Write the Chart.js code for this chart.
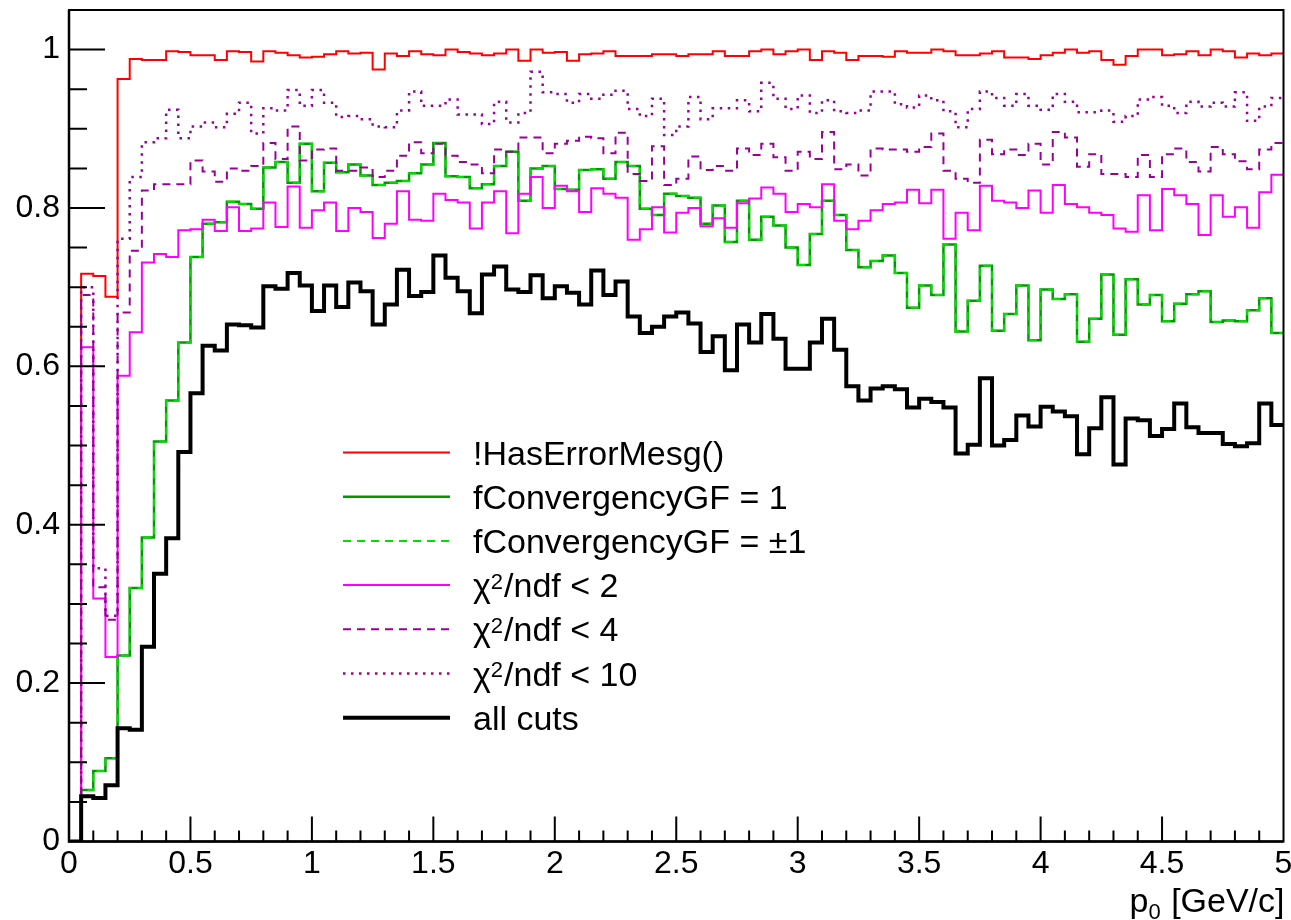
<!DOCTYPE html>
<html>
<head>
<meta charset="utf-8">
<title>Fit efficiency vs p0</title>
<script src="https://cdn.jsdelivr.net/npm/chart.js@4.4.1/dist/chart.umd.min.js"></script>
<style>
  html, body { margin: 0; padding: 0; background: #fff; }
  canvas { display: block; }
</style>
</head>
<body>
<canvas id="effChart" width="1291" height="920"></canvas>
<script>
const FONT = "'Liberation Sans', Arial, Helvetica, sans-serif";

// 100 bins of 0.05 GeV/c from 0 to 5
const BIN_W = 0.05;
const X_TICK_STEP = 0.5;
const Y_TICK_STEP = 0.2;

const LABELS = [
  '!HasErrorMesg()',
  'fConvergencyGF = 1',
  'fConvergencyGF = \u00b11',
  '\u03c7^{2}/ndf < 2',
  '\u03c7^{2}/ndf < 4',
  '\u03c7^{2}/ndf < 10',
  'all cuts'
];
const X_TITLE = 'p_{0} [GeV/c]';

const noError = [
  0, 0.717, 0.714, 0.688, 0.963, 0.988, 0.987, 0.987, 0.998, 0.997,
  0.993, 0.993, 0.987, 0.998, 0.997, 0.985, 0.998, 0.996, 0.993, 0.990,
  0.991, 0.994, 0.998, 0.995, 0.996, 0.975, 0.995, 0.992, 0.998, 0.994,
  0.993, 1.000, 0.997, 0.995, 0.993, 0.995, 1.000, 0.986, 1.000, 0.996,
  0.997, 0.986, 0.994, 0.995, 0.998, 0.992, 0.992, 0.992, 0.994, 0.994,
  0.992, 0.994, 0.994, 0.998, 0.992, 0.992, 0.998, 1.000, 0.994, 0.998,
  1.000, 0.987, 0.998, 0.996, 0.987, 0.992, 0.992, 0.991, 0.998, 0.996,
  0.996, 1.000, 0.998, 0.993, 0.993, 0.995, 0.998, 0.990, 0.990, 0.988,
  0.993, 0.996, 1.000, 0.996, 0.998, 0.987, 0.981, 0.992, 1.000, 1.000,
  0.993, 0.994, 0.998, 0.993, 1.000, 0.998, 0.990, 0.995, 0.993, 0.995
];

const convOne = [
  0, 0.065, 0.089, 0.105, 0.235, 0.320, 0.384, 0.505, 0.557, 0.630,
  0.738, 0.780, 0.782, 0.808, 0.805, 0.799, 0.851, 0.858, 0.832, 0.881,
  0.821, 0.857, 0.845, 0.855, 0.841, 0.829, 0.832, 0.834, 0.844, 0.855,
  0.882, 0.840, 0.839, 0.825, 0.830, 0.853, 0.871, 0.809, 0.850, 0.853,
  0.824, 0.823, 0.848, 0.849, 0.837, 0.858, 0.853, 0.799, 0.791, 0.818,
  0.815, 0.813, 0.780, 0.803, 0.757, 0.809, 0.760, 0.789, 0.778, 0.750,
  0.728, 0.767, 0.809, 0.791, 0.747, 0.725, 0.733, 0.740, 0.718, 0.674,
  0.702, 0.690, 0.754, 0.644, 0.683, 0.727, 0.645, 0.666, 0.702, 0.633,
  0.697, 0.685, 0.691, 0.631, 0.660, 0.716, 0.640, 0.710, 0.678, 0.690,
  0.657, 0.679, 0.691, 0.695, 0.656, 0.658, 0.657, 0.671, 0.686, 0.642
];

// the +-1 curve sits exactly on top of the =1 curve in the picture
const convPm1 = convOne.slice();

const chi2lt2 = [
  0, 0.624, 0.307, 0.233, 0.588, 0.643, 0.731, 0.742, 0.738, 0.772,
  0.773, 0.785, 0.771, 0.801, 0.771, 0.774, 0.807, 0.776, 0.827, 0.775,
  0.797, 0.807, 0.771, 0.800, 0.795, 0.762, 0.780, 0.821, 0.785, 0.784,
  0.818, 0.810, 0.807, 0.774, 0.807, 0.821, 0.768, 0.818, 0.839, 0.800,
  0.828, 0.821, 0.795, 0.825, 0.818, 0.813, 0.760, 0.773, 0.801, 0.769,
  0.794, 0.800, 0.777, 0.787, 0.775, 0.806, 0.812, 0.826, 0.818, 0.795,
  0.805, 0.801, 0.830, 0.784, 0.773, 0.784, 0.797, 0.805, 0.807, 0.823,
  0.806, 0.823, 0.761, 0.794, 0.772, 0.828, 0.809, 0.807, 0.800, 0.822,
  0.794, 0.829, 0.805, 0.801, 0.794, 0.791, 0.774, 0.770, 0.816, 0.772,
  0.824, 0.816, 0.805, 0.766, 0.816, 0.789, 0.801, 0.775, 0.820, 0.842
];

const chi2lt4 = [
  0, 0.690, 0.321, 0.280, 0.668, 0.746, 0.822, 0.830, 0.830, 0.830,
  0.860, 0.846, 0.833, 0.850, 0.847, 0.853, 0.882, 0.862, 0.903, 0.860,
  0.874, 0.875, 0.847, 0.847, 0.851, 0.839, 0.847, 0.866, 0.883, 0.869,
  0.881, 0.866, 0.858, 0.855, 0.844, 0.874, 0.871, 0.889, 0.889, 0.869,
  0.881, 0.885, 0.890, 0.888, 0.869, 0.895, 0.843, 0.834, 0.878, 0.829,
  0.837, 0.865, 0.848, 0.853, 0.847, 0.875, 0.867, 0.881, 0.864, 0.847,
  0.871, 0.862, 0.896, 0.849, 0.855, 0.841, 0.875, 0.874, 0.874, 0.871,
  0.877, 0.894, 0.847, 0.837, 0.832, 0.886, 0.868, 0.874, 0.867, 0.881,
  0.855, 0.896, 0.889, 0.852, 0.868, 0.843, 0.843, 0.839, 0.867, 0.839,
  0.868, 0.875, 0.858, 0.846, 0.877, 0.868, 0.859, 0.849, 0.874, 0.882
];

const chi2lt10 = [
  0, 0.700, 0.345, 0.285, 0.761, 0.839, 0.883, 0.888, 0.924, 0.888,
  0.903, 0.908, 0.902, 0.919, 0.933, 0.894, 0.926, 0.923, 0.949, 0.929,
  0.949, 0.933, 0.915, 0.916, 0.912, 0.903, 0.902, 0.923, 0.947, 0.929,
  0.929, 0.937, 0.918, 0.918, 0.906, 0.934, 0.908, 0.920, 0.972, 0.946,
  0.944, 0.933, 0.944, 0.938, 0.943, 0.948, 0.925, 0.916, 0.938, 0.892,
  0.903, 0.940, 0.912, 0.926, 0.926, 0.936, 0.922, 0.958, 0.938, 0.925,
  0.942, 0.920, 0.936, 0.922, 0.920, 0.923, 0.947, 0.947, 0.931, 0.927,
  0.942, 0.936, 0.922, 0.902, 0.925, 0.947, 0.939, 0.929, 0.944, 0.929,
  0.924, 0.944, 0.934, 0.921, 0.921, 0.923, 0.909, 0.916, 0.937, 0.940,
  0.929, 0.920, 0.934, 0.928, 0.933, 0.928, 0.946, 0.910, 0.928, 0.939
];

const allCuts = [
  0, 0.057, 0.055, 0.071, 0.143, 0.141, 0.246, 0.338, 0.383, 0.492,
  0.566, 0.626, 0.620, 0.653, 0.652, 0.649, 0.701, 0.698, 0.718, 0.702,
  0.670, 0.702, 0.675, 0.706, 0.695, 0.653, 0.678, 0.722, 0.689, 0.694,
  0.740, 0.712, 0.695, 0.667, 0.716, 0.726, 0.697, 0.694, 0.715, 0.686,
  0.701, 0.693, 0.678, 0.721, 0.690, 0.707, 0.663, 0.642, 0.650, 0.663,
  0.668, 0.654, 0.618, 0.638, 0.595, 0.653, 0.630, 0.666, 0.635, 0.597,
  0.597, 0.630, 0.660, 0.621, 0.575, 0.557, 0.572, 0.575, 0.571, 0.548,
  0.559, 0.555, 0.548, 0.490, 0.501, 0.585, 0.500, 0.507, 0.538, 0.524,
  0.549, 0.543, 0.537, 0.489, 0.522, 0.561, 0.476, 0.534, 0.532, 0.512,
  0.521, 0.553, 0.523, 0.516, 0.516, 0.502, 0.499, 0.503, 0.553, 0.526
];

// histogram outline: one point per bin low edge, plus the last upper edge
function toSteps(vals) {
  const pts = vals.map((v, i) => ({ x: i * BIN_W, y: v }));
  pts.push({ x: vals.length * BIN_W, y: vals[vals.length - 1] });
  return pts;
}

function histo(label, vals, color, width, dash, order) {
  return {
    label,
    data: toSteps(vals),
    borderColor: color,
    borderWidth: width,
    borderDash: dash,
    stepped: 'before',
    pointRadius: 0,
    fill: false,
    borderJoinStyle: 'miter',
    order
  };
}

// draws text with ROOT-like ^{..} and _{..}
function drawLatex(ctx, str, x, y, size, align) {
  const parts = [];
  const re = /(\^|_)\{([^}]*)\}/g;
  let last = 0, m;
  while ((m = re.exec(str)) !== null) {
    if (m.index > last) parts.push({ t: str.slice(last, m.index), k: '' });
    parts.push({ t: m[2], k: m[1] });
    last = re.lastIndex;
  }
  if (last < str.length) parts.push({ t: str.slice(last), k: '' });

  const fontOf = p => (p.k ? Math.round(size * 0.66) : size) + 'px ' + FONT;
  let total = 0;
  parts.forEach(p => { ctx.font = fontOf(p); p.w = ctx.measureText(p.t).width; total += p.w; });
  let cx = align === 'right' ? x - total : x;
  ctx.textAlign = 'left';
  ctx.textBaseline = 'alphabetic';
  parts.forEach(p => {
    ctx.font = fontOf(p);
    const dy = p.k === '^' ? -size * 0.24 : (p.k === '_' ? size * 0.22 : 0);
    ctx.fillText(p.t, cx, y + dy);
    cx += p.w + (p.k ? 1 : 0);
  });
}

const rootFrame = {
  id: 'rootFrame',
  afterDatasetsDraw(chart) {
    const { ctx, chartArea: a, scales: { x, y } } = chart;
    ctx.save();
    ctx.strokeStyle = '#000';
    ctx.lineWidth = 2;
    ctx.setLineDash([]);
    ctx.strokeRect(a.left, a.top, a.right - a.left, a.bottom - a.top);
    ctx.beginPath();
    for (let i = 1; i < 50; i++) {
      const px = x.getPixelForValue(i * 0.1);
      const len = i % 5 === 0 ? 25 : 11;
      ctx.moveTo(px, a.bottom);
      ctx.lineTo(px, a.bottom - len);
    }
    for (let i = 1; i < 21; i++) {
      const py = y.getPixelForValue(i * 0.05);
      const len = i % 4 === 0 ? 36 : 18;
      ctx.moveTo(a.left, py);
      ctx.lineTo(a.left + len, py);
    }
    ctx.stroke();
    ctx.lineWidth = 2.5;
    ctx.beginPath();
    ctx.moveTo(a.left, a.top);
    ctx.lineTo(a.left, a.bottom);
    ctx.lineTo(a.right, a.bottom);
    ctx.stroke();

    ctx.fillStyle = '#000';
    drawLatex(ctx, X_TITLE, a.right, 912, 34, 'right');
    ctx.restore();
  }
};

const boxLegend = {
  id: 'boxLegend',
  afterDraw(chart) {
    const ctx = chart.ctx;
    ctx.save();
    chart.data.datasets.forEach((ds, i) => {
      const yRow = 452.5 + i * 44.2;
      ctx.strokeStyle = ds.borderColor;
      ctx.lineWidth = ds.borderWidth;
      ctx.setLineDash(ds.borderDash || []);
      ctx.beginPath();
      ctx.moveTo(343, yRow);
      ctx.lineTo(450, yRow);
      ctx.stroke();
      ctx.fillStyle = '#000';
      drawLatex(ctx, ds.label, 473, yRow + 12, 34, 'left');
    });
    ctx.restore();
  }
};

Chart.defaults.font.family = FONT;
Chart.defaults.color = '#000';

new Chart(document.getElementById('effChart').getContext('2d'), {
  type: 'line',
  data: {
    datasets: [
      histo(LABELS[0], noError, '#ff0000', 2, [], 6),
      histo(LABELS[1], convOne, '#009a00', 2.5, [], 5),
      histo(LABELS[2], convPm1, '#00e000', 2, [8, 6], 4),
      histo(LABELS[3], chi2lt2, '#ff00ff', 2, [], 3),
      histo(LABELS[4], chi2lt4, '#990099', 2, [8, 6], 2),
      histo(LABELS[5], chi2lt10, '#990099', 2.5, [2.5, 5.5], 1),
      histo(LABELS[6], allCuts, '#000000', 4, [], 0)
    ]
  },
  options: {
    responsive: false,
    animation: false,
    devicePixelRatio: 1,
    layout: { padding: { left: 0, top: 10, right: 7.5, bottom: 0 } },
    plugins: {
      legend: { display: false },
      tooltip: { enabled: false }
    },
    scales: {
      x: {
        type: 'linear',
        min: 0,
        max: 5,
        grid: { display: false, drawTicks: false },
        border: { display: false },
        ticks: {
          stepSize: X_TICK_STEP,
          autoSkip: false,
          maxRotation: 0,
          padding: 3,
          color: '#000',
          font: { size: 32 },
          callback: v => String(+v.toFixed(2))
        },
        afterFit: s => { s.height = 78.5; s.paddingLeft = 0; s.paddingRight = 0; }
      },
      y: {
        type: 'linear',
        min: 0,
        max: 1.05,
        grid: { display: false, drawTicks: false },
        border: { display: false },
        ticks: {
          stepSize: Y_TICK_STEP,
          includeBounds: false,
          padding: 9,
          color: '#000',
          font: { size: 32 },
          callback: v => String(+v.toFixed(2))
        },
        afterFit: s => { s.width = 69; s.paddingTop = 0; s.paddingBottom = 0; }
      }
    }
  },
  plugins: [rootFrame, boxLegend]
});
</script>
</body>
</html>
